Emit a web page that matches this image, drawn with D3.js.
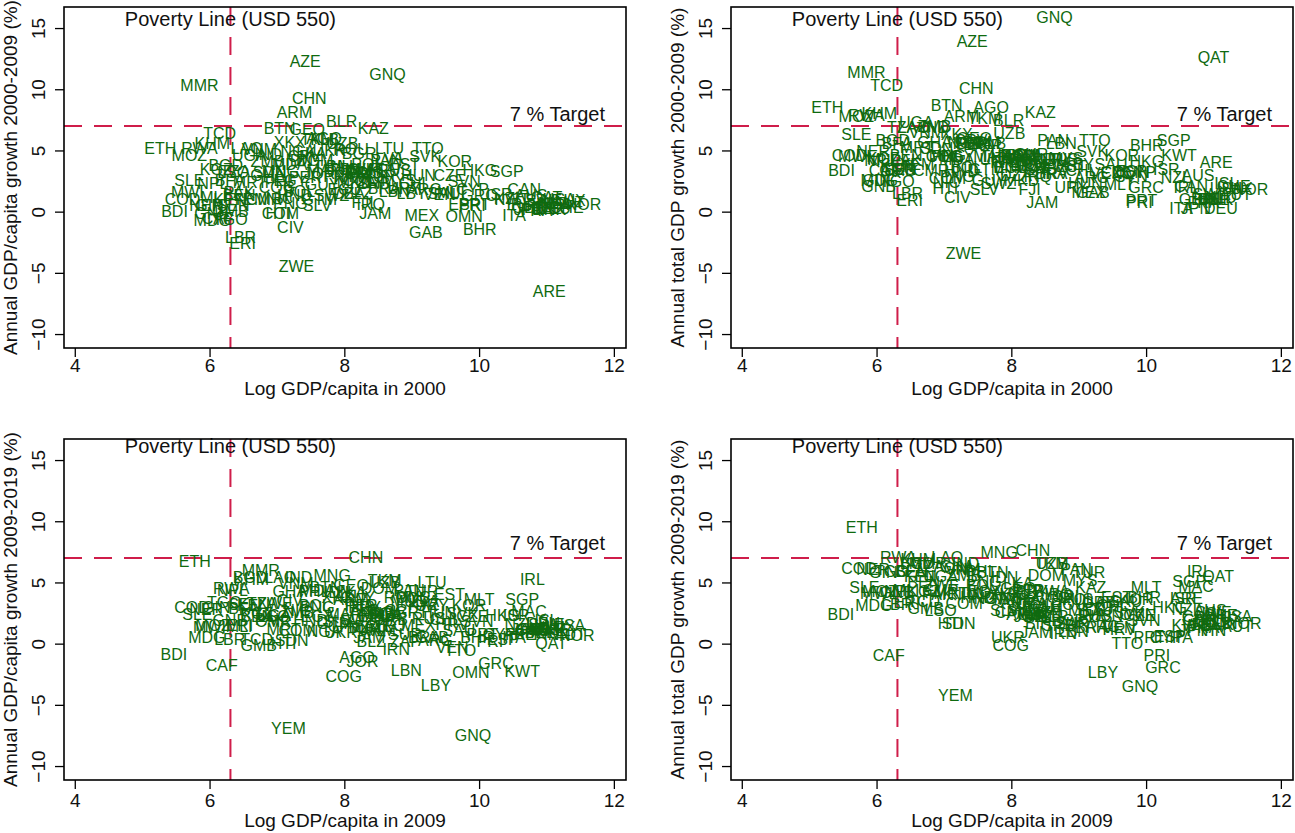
<!DOCTYPE html>
<html>
<head>
<meta charset="utf-8">
<script src="https://cdn.jsdelivr.net/npm/d3@7"></script>
<style>
  body { margin: 0; background: #fff; }
  svg text { font-family: "Liberation Sans", Arial, sans-serif; }
</style>
</head>
<body>
<svg id="chart" width="1295" height="833"></svg>
<script>
// country codes (same order in every series below)
var codes = [
  "MMR","AZE","GNQ","CHN","ARM","BLR","KAZ","BTN","GEO","TCD",
  "KHM","ETH","RWA","MOZ","LAO","VNM","IND","UGA","NGA","ZMB",
  "BGD","TZA","SDN","SLE","GHA","NPL","PHL","MNG","PER","EGY",
  "XKX","ALB","ROU","LTU","TTO","BGR","SVK","UKR","LKA","IDN",
  "MDA","DOM","PAN","EST","POL","LVA","KOR","HKG","SGP","CZE",
  "SVN","HUN","RUS","TUR","CRI","PRY","THA","JOR","BIH","MKD",
  "SRB","BRA","CHL","URY","ARG","MYS","LBN","SAU","VEN","GRC",
  "CAN","AUS","ISR","NZL","ESP","PRT","USA","AUT","SWE","FIN",
  "NLD","IRL","GBR","BEL","FRA","DEU","JPN","CHE","DNK","NOR",
  "ISL","ITA","MEX","OMN","BHR","GAB","JAM","IRQ","UZB","ECU",
  "COL","PAK","MWI","NER","COD","KEN","BEN","BFA","MLI","CMR",
  "BOL","SEN","GIN","HND","NIC","GTM","SLV","PNG","SWZ","MAR",
  "TUN","DZA","GNB","GMB","COM","BDI","MDG","TGO","CIV","LBR",
  "ERI","ZWE","ARE","HTI","QAT","KWT","YEM","LBY","IRN","AGO",
  "COG","CAF","MAC","CYP","MLT","HRV","BWA","NAM","ZAF","MUS",
  "CPV","LSO","MRT","KGZ","FJI","GUY","BLZ","SUR","TKM","PRI",
  "LUX"
];

// log GDP per capita in 2000 (x of top panels)
var logGdp2000 = [
  5.85,7.42,8.64,7.48,7.26,7.96,8.43,7.04,7.45,6.15,
  6.04,5.27,5.85,5.70,6.55,6.74,6.87,6.59,7.31,6.86,
  6.24,6.38,6.89,5.70,6.86,6.05,7.05,7.05,7.42,7.20,
  7.19,7.70,8.10,8.67,9.24,8.22,9.20,7.78,7.51,7.33,
  7.19,7.56,8.62,8.89,8.34,8.67,9.64,10.01,10.41,9.56,
  9.78,9.10,8.74,8.52,8.22,7.93,7.78,7.63,7.93,8.15,
  8.44,8.59,9.04,8.89,9.19,8.81,8.74,9.48,9.41,10.00,
  10.67,10.77,10.30,10.44,9.78,9.93,11.19,11.33,10.96,10.89,
  11.11,10.59,10.74,11.00,10.85,11.11,10.74,11.30,11.04,11.55,
  11.19,10.52,9.15,9.78,10.01,9.21,8.46,8.39,7.97,8.00,
  8.22,6.44,5.67,5.95,5.60,6.30,6.44,6.30,6.06,6.81,
  7.33,6.35,6.00,7.26,7.04,7.63,7.60,7.20,7.81,7.70,
  8.00,8.07,6.03,6.31,7.05,5.48,6.04,6.31,7.20,6.46,
  6.49,7.29,11.04,7.02,11.00,10.49,6.60,9.00,8.20,7.70,
  7.00,6.12,null,9.90,9.60,8.60,8.20,8.10,8.40,8.30,
  7.40,6.35,6.60,6.10,8.27,7.67,8.20,8.30,7.60,9.90,
  11.35
];

// annual GDP per capita growth 2000-2009 (%)
var pcGrowth0009 = [
  10.3,12.3,11.2,9.3,8.1,7.4,6.8,6.8,6.7,6.4,
  5.6,5.2,5.2,4.6,5.2,5.1,4.7,4.6,4.9,4.1,
  3.8,3.3,3.2,2.6,3.0,2.3,2.4,3.3,2.8,2.6,
  5.7,5.9,5.1,5.2,5.2,4.8,4.5,5.0,4.8,4.2,
  3.9,4.2,4.2,3.9,3.9,4.4,4.1,3.4,3.3,3.0,
  2.5,3.0,3.4,2.9,3.1,2.9,3.7,3.1,3.7,2.4,
  2.3,1.9,2.3,1.9,1.8,2.6,1.7,1.5,1.4,1.3,
  1.8,1.3,1.4,1.1,0.6,0.6,1.0,0.8,0.9,0.6,
  0.7,0.6,0.4,0.3,0.1,0.3,0.2,0.4,0.2,0.6,
  0.7,-0.3,-0.3,-0.4,-1.4,-1.7,-0.1,0.6,5.6,1.8,
  2.6,1.6,1.6,0.5,1.0,1.0,1.3,2.6,1.2,1.0,
  1.7,0.5,0.5,1.3,1.1,1.0,0.5,0.7,1.3,3.4,
  3.5,1.5,-0.1,0.0,-0.1,0.0,-0.7,-0.6,-1.3,-2.1,
  -2.6,-4.5,-6.5,-0.1,1.2,1.0,1.0,1.5,3.2,6.0,
  2.0,-0.5,null,1.8,1.6,3.4,3.5,2.8,2.4,3.2,
  4.5,3.2,2.4,3.5,0.8,2.2,1.5,3.5,5.9,0.5,
  0.9
];

// annual total GDP growth 2000-2009 (%)
var totGrowth0009 = [
  11.4,13.9,15.9,10.1,7.8,7.5,8.1,8.7,6.0,10.3,
  8.0,8.5,7.9,7.8,6.9,6.5,6.9,7.3,5.7,7.0,
  5.85,6.9,5.2,6.3,5.7,4.2,4.5,4.6,5.6,4.5,
  6.3,5.6,4.6,4.3,5.85,4.3,4.9,4.3,5.5,5.6,
  4.3,5.7,5.85,3.7,3.8,3.8,4.6,4.1,5.8,3.2,
  2.9,2.3,4.3,4.3,4.5,4.0,4.5,5.4,3.6,2.6,
  3.5,3.1,3.4,2.0,2.8,4.4,5.6,3.9,3.1,2.0,
  2.1,3.0,3.5,2.8,3.3,0.9,1.9,1.4,1.4,1.0,
  1.2,2.0,1.0,1.0,0.8,0.3,0.3,2.1,1.0,1.8,
  2.3,0.3,1.6,3.2,5.4,1.6,0.8,2.9,6.4,3.6,
  4.0,4.2,4.5,4.9,4.6,3.7,4.6,5.6,4.3,3.4,
  3.6,3.5,2.6,3.4,2.4,3.5,1.8,2.9,2.3,4.5,
  4.4,3.0,2.1,3.4,2.7,3.4,2.6,2.5,1.2,1.5,
  0.9,-3.4,4.0,1.9,12.6,4.6,3.9,3.9,4.6,8.5,
  4.5,3.4,null,3.2,2.2,3.1,4.6,4.5,3.8,3.6,
  5.8,3.5,5.3,4.4,1.8,2.6,3.8,4.7,7.6,0.8,
  1.9
];

// log GDP per capita in 2009 (x of bottom panels)
var logGdp2009 = [
  6.76,8.52,9.91,8.32,8.10,8.62,9.18,7.72,8.10,6.70,
  6.62,5.78,6.32,6.05,7.05,7.28,7.32,6.95,7.70,7.30,
  6.60,6.78,7.22,5.82,7.19,6.34,7.55,7.82,8.25,7.60,
  7.90,8.30,8.85,9.30,9.72,8.85,9.75,7.95,8.10,7.90,
  7.60,8.52,8.96,9.56,9.00,9.20,9.85,10.35,10.64,9.90,
  9.97,9.40,9.25,9.15,8.80,8.30,8.20,8.27,8.40,8.50,
  8.70,9.19,9.50,9.30,9.35,9.02,8.92,9.70,9.60,10.25,
  10.78,10.95,10.55,10.60,10.35,10.05,11.33,11.35,11.00,11.00,
  11.05,10.79,10.80,10.90,10.85,10.95,10.70,11.11,11.05,11.45,
  11.00,10.52,9.10,9.88,9.97,9.30,8.37,8.70,8.60,8.40,
  8.60,6.90,6.00,5.95,5.74,6.65,6.70,6.50,6.44,6.95,
  7.56,6.52,6.10,7.50,7.30,7.85,7.90,7.60,8.20,8.00,
  8.30,8.30,6.30,6.73,7.30,5.47,5.96,6.22,7.19,6.30,
  6.45,6.97,10.60,7.10,11.07,10.64,7.17,9.36,8.77,8.19,
  7.99,6.18,10.74,10.30,10.00,9.60,8.60,8.50,8.90,8.95,
  8.00,6.95,7.10,6.70,8.40,8.20,8.40,8.90,8.60,10.16,
  11.20
];

// annual GDP per capita growth 2009-2019 (%)
var pcGrowth0919 = [
  6.0,1.4,-7.5,7.1,3.6,2.2,3.2,4.6,4.8,0.4,
  5.3,6.75,4.5,1.5,5.4,4.9,5.4,2.3,1.0,2.6,
  5.4,3.3,0.3,2.4,4.3,4.4,4.3,5.6,3.1,2.2,
  3.8,2.7,3.8,5.0,-0.5,2.6,2.5,0.9,4.2,4.2,
  4.4,4.5,4.4,4.0,3.7,3.5,3.1,2.3,3.6,2.2,
  1.8,2.6,2.1,4.3,2.7,3.0,3.1,-1.4,2.2,2.4,
  2.0,0.5,2.0,3.1,0.3,3.8,-2.2,1.1,-0.3,-1.6,
  1.1,1.2,2.3,1.6,0.4,0.8,1.5,0.8,1.6,0.8,
  1.3,5.3,1.2,0.9,0.9,1.7,1.2,1.1,1.2,0.7,
  1.9,0.5,1.5,-2.3,0.5,0.5,0.5,1.5,5.0,1.4,
  2.5,2.0,1.3,2.8,3.0,3.1,2.2,2.9,1.4,1.8,
  3.1,3.2,3.0,1.9,2.7,1.7,1.8,3.0,2.0,2.4,
  1.2,1.3,1.9,-0.1,1.1,-0.85,0.5,3.4,3.56,0.4,
  1.5,3.3,0.8,0.05,0.05,-2.24,-6.9,-3.4,-0.44,-1.1,
  -2.7,-1.8,2.66,0.8,3.6,1.6,2.5,1.1,0.2,3.5,
  1.4,2.2,1.2,2.5,2.5,3.8,0.2,0.8,5.2,0.2,
  1.3
];

// annual total GDP growth 2009-2019 (%)
var totGrowth0919 = [
  6.6,2.6,-3.5,7.6,3.4,2.2,4.6,5.8,4.5,3.5,
  6.9,9.5,7.1,4.3,7.1,6.1,6.6,5.5,3.7,5.6,
  6.6,6.3,1.7,4.6,6.3,4.3,5.9,7.5,4.4,4.3,
  4.0,2.5,3.2,2.8,0.0,1.9,2.6,0.5,4.9,5.4,
  4.1,5.6,6.1,3.8,3.6,2.4,3.6,3.0,5.1,2.3,
  1.9,2.3,2.2,5.8,3.9,4.3,3.6,2.2,1.7,2.4,
  1.5,1.3,3.1,3.4,1.4,5.2,1.0,3.5,1.3,-1.9,
  2.2,2.7,3.7,2.8,0.6,0.5,2.2,1.4,2.6,1.1,
  1.7,5.9,1.9,1.6,1.3,1.8,1.1,2.3,1.6,1.7,
  2.5,0.5,2.7,2.4,3.8,3.4,0.9,4.0,6.6,3.0,
  3.8,4.0,4.1,6.1,6.2,5.5,5.0,5.9,4.4,4.4,
  4.8,5.9,5.8,3.8,4.0,3.7,2.7,5.1,2.7,3.6,
  2.4,3.3,4.2,2.9,3.3,2.4,3.1,5.9,6.2,3.2,
  3.4,4.8,3.7,1.7,5.5,1.5,-4.2,-2.3,0.87,2.4,
  -0.1,-0.93,4.7,0.5,4.6,1.2,4.3,2.8,1.7,3.6,
  2.6,2.75,4.1,4.3,3.2,4.2,2.2,1.7,6.6,-0.93,
  2.1
];

var xTicks = [4, 6, 8, 10, 12];
var yTicks = [-10, -5, 0, 5, 10, 15];
var povertyLineUsd = 550;
var targetGrowth = 7;

var series = [codes, logGdp2000, pcGrowth0009, totGrowth0009, logGdp2009, pcGrowth0919, totGrowth0919];
series.forEach(function (s) {
    if (s.length != codes.length) { throw new Error("length mismatch " + s.length + " vs " + codes.length); }
});

var W = 562, H = 341;
var green = "#0f6a0f", red = "#cf1d4a";

var panels = [
    {xs: logGdp2000, ys: pcGrowth0009, left: 64, top: 7, povY: 12, targetDy: 12, tickPad: 2,
     xTitle: "Log GDP/capita in 2000", yTitle: "Annual GDP/capita growth 2000-2009 (%)"},
    {xs: logGdp2000, ys: totGrowth0009, left: 731, top: 7, povY: 12, targetDy: 12, tickPad: 2,
     xTitle: "Log GDP/capita in 2000", yTitle: "Annual total GDP growth 2000-2009 (%)"},
    {xs: logGdp2009, ys: pcGrowth0919, left: 64, top: 439, povY: 7, targetDy: 15, tickPad: 5,
     xTitle: "Log GDP/capita in 2009", yTitle: "Annual GDP/capita growth 2009-2019 (%)"},
    {xs: logGdp2009, ys: totGrowth0919, left: 731, top: 439, povY: 7, targetDy: 15, tickPad: 5,
     xTitle: "Log GDP/capita in 2009", yTitle: "Annual total GDP growth 2009-2019 (%)"}
];

var svg = d3.select("#chart");

panels.forEach(function (p) {

    var x = d3.scaleLinear().domain([3.84, 12.18]).range([0, W]);
    var y = d3.scaleLinear().domain([-11.14, 16.72]).range([H, 0]);

    var g = svg.append("g").attr("transform", "translate(" + p.left + "," + p.top + ")");

    // reference lines
    var povX = x(Math.log(povertyLineUsd));
    g.append("line")
        .attr("x1", povX).attr("x2", povX).attr("y1", 0).attr("y2", H)
        .attr("stroke", red).attr("stroke-width", 2).attr("stroke-dasharray", "18,12");
    g.append("line")
        .attr("x1", 0).attr("x2", W).attr("y1", y(targetGrowth)).attr("y2", y(targetGrowth))
        .attr("stroke", red).attr("stroke-width", 2).attr("stroke-dasharray", "18,12");

    g.append("text")
        .attr("x", povX).attr("y", p.povY)
        .attr("dy", "0.35em")
        .attr("text-anchor", "middle")
        .attr("font-size", "20px")
        .attr("fill", "#111")
        .text("Poverty Line (USD 550)");

    g.append("text")
        .attr("x", W - 21).attr("y", y(targetGrowth) - p.targetDy)
        .attr("dy", "0.35em")
        .attr("text-anchor", "end")
        .attr("font-size", "20px")
        .attr("fill", "#111")
        .text("7 % Target");

    // country labels
    var pts = [];
    for (var i = 0; i != codes.length; i++) {
        if (p.xs[i] == null || p.ys[i] == null) continue;
        pts.push({code: codes[i], x: p.xs[i], y: p.ys[i]});
    }

    g.selectAll("text.ctry")
        .data(pts)
        .enter()
        .append("text")
        .attr("class", "ctry")
        .attr("x", function (d) { return x(d.x); })
        .attr("y", function (d) { return y(d.y); })
        .attr("dy", "0.36em")
        .attr("text-anchor", "middle")
        .attr("font-size", "16px")
        .attr("fill", green)
        .text(function (d) { return d.code; });

    // frame
    g.append("rect")
        .attr("width", W).attr("height", H)
        .attr("fill", "none").attr("stroke", "#000").attr("stroke-width", 1.6);

    // axes
    var xAxis = g.append("g")
        .attr("transform", "translate(0," + H + ")")
        .call(d3.axisBottom(x).tickValues(xTicks).tickSize(9).tickSizeOuter(0).tickPadding(p.tickPad));
    xAxis.select(".domain").remove();
    xAxis.selectAll("line").attr("stroke", "#000").attr("stroke-width", 1.3);
    xAxis.selectAll("text")
        .attr("font-size", "19px")
        .attr("fill", "#111")
        .attr("font-family", "Liberation Sans, Arial, sans-serif");

    var yAxis = g.append("g")
        .call(d3.axisLeft(y).tickValues(yTicks).tickSize(9).tickSizeOuter(0));
    yAxis.select(".domain").remove();
    yAxis.selectAll("line").attr("stroke", "#000").attr("stroke-width", 1.3);
    yAxis.selectAll("text")
        .attr("x", null)
        .attr("dy", "0.35em")
        .attr("transform", "translate(-26,0) rotate(-90)")
        .attr("text-anchor", "middle")
        .attr("font-size", "19px")
        .attr("fill", "#111")
        .attr("font-family", "Liberation Sans, Arial, sans-serif");

    g.append("text")
        .attr("x", W / 2).attr("y", H + 40)
        .attr("dy", "0.35em")
        .attr("text-anchor", "middle")
        .attr("font-size", "19px")
        .attr("fill", "#111")
        .text(p.xTitle);

    g.append("text")
        .attr("transform", "translate(-54," + (H / 2) + ") rotate(-90)")
        .attr("dy", "0.35em")
        .attr("text-anchor", "middle")
        .attr("font-size", "19px")
        .attr("fill", "#111")
        .text(p.yTitle);
});
</script>
</body>
</html>
